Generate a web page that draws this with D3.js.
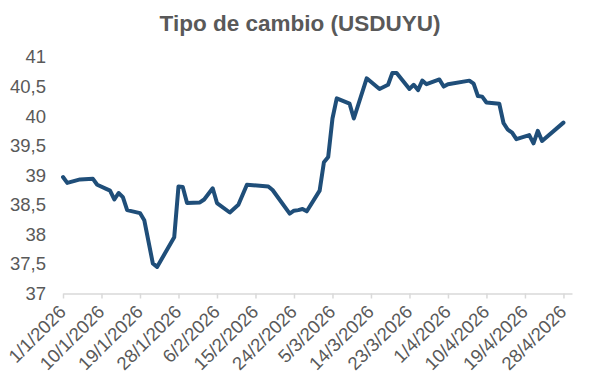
<!DOCTYPE html>
<html>
<head>
<meta charset="utf-8">
<script src="https://cdn.jsdelivr.net/npm/d3@7"></script>
<style>
  html, body { margin: 0; padding: 0; background: #ffffff; }
  svg { display: block; }
  text { font-family: "Liberation Sans", Arial, sans-serif; }
</style>
</head>
<body>
<svg id="chart" width="600" height="391"></svg>
<script>
// ---- data ----
const dates = [
  "2026-01-01","2026-01-02","2026-01-05","2026-01-08","2026-01-09","2026-01-12","2026-01-13","2026-01-14","2026-01-15","2026-01-16",
  "2026-01-19","2026-01-20","2026-01-22","2026-01-23","2026-01-27","2026-01-28","2026-01-29","2026-01-30",
  "2026-02-02","2026-02-03","2026-02-05","2026-02-06","2026-02-09","2026-02-11","2026-02-12","2026-02-13",
  "2026-02-18","2026-02-19","2026-02-23","2026-02-24","2026-02-25","2026-02-26","2026-02-27",
  "2026-03-02","2026-03-03","2026-03-04","2026-03-05","2026-03-06","2026-03-09","2026-03-10","2026-03-13",
  "2026-03-16","2026-03-18","2026-03-19","2026-03-20","2026-03-23","2026-03-24","2026-03-25","2026-03-26","2026-03-27",
  "2026-03-30","2026-03-31","2026-04-01","2026-04-06","2026-04-07","2026-04-08","2026-04-09","2026-04-10",
  "2026-04-13","2026-04-14","2026-04-15","2026-04-16","2026-04-17","2026-04-20","2026-04-21","2026-04-22","2026-04-23","2026-04-28"
];
const values = [
  38.97,38.87,38.93,38.94,38.84,38.74,38.59,38.70,38.63,38.41,
  38.36,38.24,37.51,37.45,37.95,38.81,38.80,38.53,
  38.54,38.59,38.78,38.53,38.37,38.50,38.67,38.84,
  38.81,38.75,38.35,38.40,38.41,38.43,38.39,
  38.74,39.22,39.31,39.96,40.30,40.21,39.96,40.64,
  40.46,40.53,40.73,40.73,40.46,40.53,40.44,40.60,40.54,
  40.62,40.50,40.54,40.60,40.55,40.34,40.33,40.23,
  40.21,39.88,39.77,39.72,39.61,39.68,39.54,39.75,39.58,39.89
];
const xTickDates = ["2026-01-01","2026-01-10","2026-01-19","2026-01-28","2026-02-06","2026-02-15","2026-02-24",
  "2026-03-05","2026-03-14","2026-03-23","2026-04-01","2026-04-10","2026-04-19","2026-04-28"];
const yTicks = [37, 37.5, 38, 38.5, 39, 39.5, 40, 40.5, 41];
const xDomain = ["2026-01-01", "2026-04-30"];
const title = "Tipo de cambio (USDUYU)";

// ---- drawing ----
const parse = d3.utcParse("%Y-%m-%d");
const data = dates.map((d, i) => ({ date: parse(d), value: values[i] }));

const svg = d3.select("#chart");
const mLeft = 63, mRight = 572, mTop = 57, mBottom = 293.5;

const x = d3.scaleUtc().domain(xDomain.map(parse)).range([mLeft, mRight]);
const y = d3.scaleLinear().domain([37, 41]).range([mBottom, mTop]);

const textColor = "#595959";
const fmtY = v => String(v).replace(".", ",");
const fmtX = d3.utcFormat("%-d/%-m/%Y");

// title
svg.append("text")
  .attr("x", 300).attr("y", 31)
  .attr("text-anchor", "middle")
  .attr("font-size", 22.5).attr("font-weight", "bold")
  .attr("fill", textColor)
  .text(title);

// y axis (labels only)
const yAxis = d3.axisLeft(y).tickValues(yTicks).tickFormat(fmtY).tickSize(0).tickPadding(0);
const gy = svg.append("g").attr("transform", `translate(${mLeft - 17},0)`).call(yAxis);
gy.select(".domain").remove();
gy.selectAll("text").attr("font-size", 18.5).attr("fill", textColor)
  .attr("font-family", "Liberation Sans, Arial, sans-serif");

// x axis
const xAxis = d3.axisBottom(x).tickValues(xTickDates.map(parse)).tickFormat(fmtX).tickSize(5).tickSizeOuter(0);
const gx = svg.append("g").attr("transform", `translate(0,${mBottom})`).call(xAxis);
gx.select(".domain").attr("stroke", "#d9d9d9").attr("stroke-width", 1.5);
gx.selectAll(".tick line").attr("stroke", "#d9d9d9").attr("stroke-width", 1.5);
gx.selectAll("text")
  .attr("font-size", 18.5).attr("fill", textColor)
  .attr("font-family", "Liberation Sans, Arial, sans-serif")
  .attr("text-anchor", "end")
  .attr("dy", "0.35em")
  .attr("y", 0)
  .attr("transform", "translate(-1,15) rotate(-45)");

// line
const line = d3.line().x(d => x(d.date)).y(d => y(d.value));
svg.append("path")
  .datum(data)
  .attr("fill", "none")
  .attr("stroke", "#1f4e79")
  .attr("stroke-width", 4)
  .attr("stroke-linejoin", "round")
  .attr("stroke-linecap", "round")
  .attr("d", line);
</script>
</body>
</html>
